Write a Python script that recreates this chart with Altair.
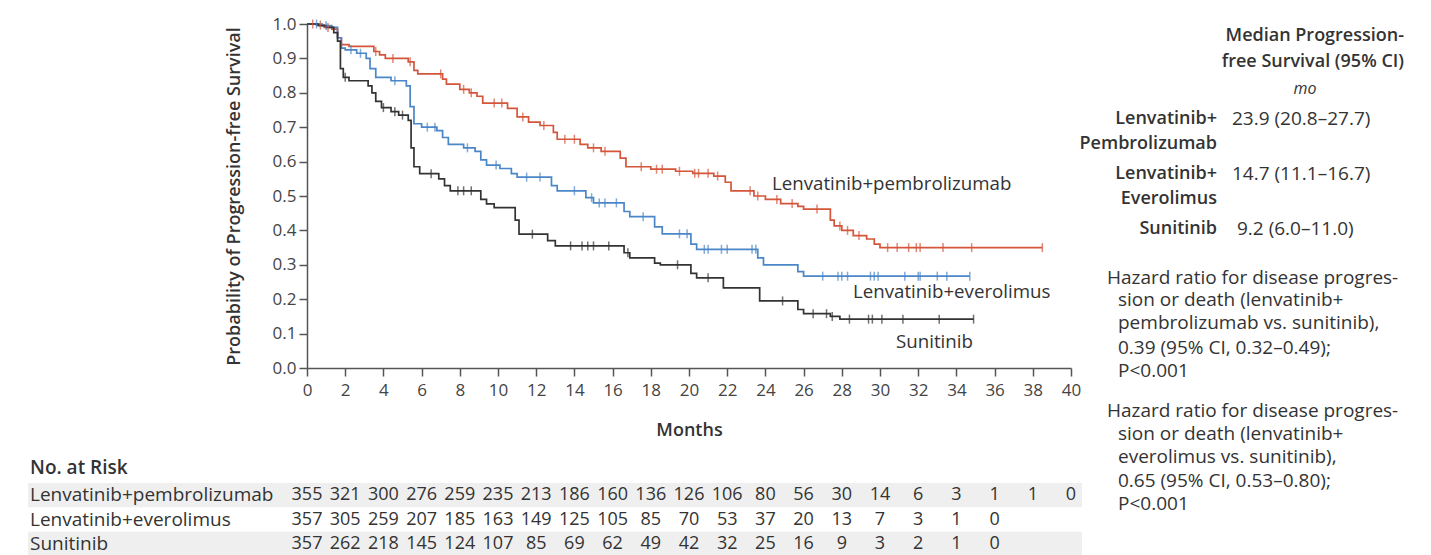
import altair as alt
import pandas as pd

FONT = "Open Sans"
TEXT = "#333333"
BOLD = 600

# ---------------- data ----------------
series_names = ["Lenvatinib+pembrolizumab", "Lenvatinib+everolimus", "Sunitinib"]
series_colors = ["#d4553a", "#4a86c8", "#333333"]

red_t = [0, 0.5, 0.9, 1.3, 1.6, 1.8, 2.2, 3.5, 3.8, 4.1, 5.3, 5.6, 5.8, 7.1, 7.3, 8.0, 8.5, 8.9, 9.2, 10.5,
         11.0, 11.6, 12.2, 12.9, 13.1, 14.3, 14.7, 15.4, 16.4, 16.7, 18.0, 19.3, 20.2, 21.3, 21.9, 22.2, 23.4,
         24.0, 24.8, 25.7, 26.0, 27.4, 27.6, 28.0, 28.6, 29.3, 29.7, 30.0, 38.5]
red_s = [1.0, 0.997, 0.99, 0.985, 0.96, 0.94, 0.935, 0.92, 0.91, 0.9, 0.89, 0.865, 0.855, 0.84, 0.825, 0.81,
         0.80, 0.79, 0.77, 0.755, 0.73, 0.715, 0.705, 0.685, 0.665, 0.65, 0.64, 0.63, 0.61, 0.585, 0.578, 0.572,
         0.566, 0.558, 0.54, 0.515, 0.50, 0.49, 0.478, 0.47, 0.462, 0.43, 0.413, 0.40, 0.385, 0.375, 0.36,
         0.35, 0.35]
red_censor = [0.3, 0.7, 1.1, 3.6, 4.5, 5.4, 7.0, 8.2, 8.6, 9.8, 10.2, 11.3, 12.4, 13.5, 14.0, 15.0, 15.6,
              17.5, 18.3, 18.6, 19.5, 20.3, 20.5, 21.0, 21.5, 23.2, 23.6, 24.6, 25.4, 26.7, 27.9, 28.3, 28.9,
              30.4, 30.9, 31.5, 31.9, 32.1, 33.3, 34.8, 38.5]

blue_t = [0, 0.8, 1.3, 1.6, 1.8, 2.0, 2.6, 3.1, 3.3, 3.6, 4.4, 5.2, 5.4, 5.6, 6.0, 6.8, 7.1, 7.4, 8.2, 8.8,
          9.1, 9.4, 10.1, 10.7, 11.0, 12.8, 13.1, 14.6, 15.0, 16.6, 16.9, 18.2, 18.6, 20.1, 20.4, 23.6, 23.9,
          25.7, 26.0, 34.7]
blue_s = [1.0, 0.995, 0.99, 0.96, 0.93, 0.925, 0.915, 0.90, 0.87, 0.845, 0.835, 0.82, 0.76, 0.71, 0.70, 0.69,
          0.67, 0.65, 0.64, 0.63, 0.605, 0.59, 0.58, 0.565, 0.555, 0.53, 0.515, 0.495, 0.48, 0.455, 0.44, 0.41,
          0.39, 0.36, 0.345, 0.32, 0.30, 0.28, 0.267, 0.267]
blue_censor = [0.5, 1.0, 2.3, 2.8, 4.6, 6.3, 6.7, 8.4, 9.9, 11.5, 12.2, 14.0, 14.9, 15.3, 15.6, 16.2, 17.6,
               19.5, 19.9, 20.8, 21.0, 21.7, 22.0, 23.3, 23.5, 27.0, 27.8, 28.0, 28.3, 29.5, 29.7, 29.9, 31.3,
               32.0, 32.1, 33.0, 33.5, 34.7]

blk_t = [0, 0.6, 1.0, 1.4, 1.6, 1.75, 1.9, 2.2, 3.2, 3.4, 3.6, 3.9, 4.4, 4.8, 5.3, 5.45, 5.6, 5.9, 6.9, 7.2,
         7.5, 9.1, 9.4, 9.8, 10.9, 11.1, 12.6, 13.0, 16.6, 16.9, 18.2, 18.5, 20.1, 20.4, 21.8, 23.7, 25.7,
         26.0, 27.4, 27.9, 34.9]
blk_s = [1.0, 0.995, 0.99, 0.975, 0.95, 0.87, 0.845, 0.835, 0.82, 0.80, 0.775, 0.757, 0.745, 0.735, 0.72, 0.64,
         0.585, 0.565, 0.55, 0.53, 0.515, 0.49, 0.477, 0.466, 0.43, 0.389, 0.37, 0.355, 0.335, 0.32, 0.305,
         0.30, 0.275, 0.262, 0.233, 0.195, 0.17, 0.158, 0.15, 0.142, 0.142]
blk_censor = [2.0, 4.0, 4.6, 5.0, 6.5, 7.9, 8.2, 8.6, 11.8, 13.8, 14.4, 14.7, 15.0, 15.8, 16.8, 19.4, 21.0,
              24.9, 26.5, 27.2, 27.5, 28.4, 29.4, 29.6, 30.1, 31.2, 33.1, 34.9]

x_tick_values = list(range(0, 41, 2))
y_tick_values = [0.0, 0.1, 0.2, 0.3, 0.4, 0.5, 0.6, 0.7, 0.8, 0.9, 1.0]

risk_months = list(range(0, 41, 2))
risk_pembro = [355, 321, 300, 276, 259, 235, 213, 186, 160, 136, 126, 106, 80, 56, 30, 14, 6, 3, 1, 1, 0]
risk_everol = [357, 305, 259, 207, 185, 163, 149, 125, 105, 85, 70, 53, 37, 20, 13, 7, 3, 1, 0]
risk_sunit = [357, 262, 218, 145, 124, 107, 85, 69, 62, 49, 42, 32, 25, 16, 9, 3, 2, 1, 0]

# ---------------- build tables ----------------
def step_value(ts, ss, t):
    v = ss[0]
    for a, b in zip(ts, ss):
        if a <= t:
            v = b
    return v

curve_rows, censor_rows = [], []
for name, ts, ss, cs in [(series_names[0], red_t, red_s, red_censor),
                         (series_names[1], blue_t, blue_s, blue_censor),
                         (series_names[2], blk_t, blk_s, blk_censor)]:
    for t, s in zip(ts, ss):
        curve_rows.append({"series": name, "month": t, "surv": s})
    for c in cs:
        censor_rows.append({"series": name, "month": c, "surv": step_value(ts, ss, c)})
curves = pd.DataFrame(curve_rows)
censor = pd.DataFrame(censor_rows)

risk_rows = []
for name, counts in zip(series_names, [risk_pembro, risk_everol, risk_sunit]):
    for m, n in zip(risk_months, counts):
        risk_rows.append({"group": name, "month": m, "n": n})
risk = pd.DataFrame(risk_rows)

# ---------------- layout constants (pixels) ----------------
W, H = 764, 344
OX, OY = 307, 23  # page position of the plot origin; used to place annotation text

x_scale = alt.Scale(domain=[0, 40], nice=False)
y_scale = alt.Scale(domain=[0, 1], nice=False)
color_scale = alt.Scale(domain=series_names, range=series_colors)

x_axis = alt.Axis(values=x_tick_values, title="Months", grid=False, tickSize=8, labelPadding=6,
                  titlePadding=23, labelFontSize=17, titleFontSize=18, labelOverlap=False, labelFlush=False)
y_axis = alt.Axis(values=y_tick_values, format=".1f", title="Probability of Progression-free Survival",
                  grid=False, tickSize=8, labelPadding=3, titlePadding=29, labelFontSize=17,
                  titleFontSize=18, labelOverlap=False, labelFlush=False)

lines = alt.Chart(curves).mark_line(interpolate="step-after", strokeWidth=1.7).encode(
    x=alt.X("month:Q", scale=x_scale, axis=x_axis),
    y=alt.Y("surv:Q", scale=y_scale, axis=y_axis),
    color=alt.Color("series:N", scale=color_scale, legend=None),
)

ticks = alt.Chart(censor).mark_tick(orient="vertical", size=9, thickness=1.5).encode(
    x=alt.X("month:Q", scale=x_scale, axis=x_axis),
    y=alt.Y("surv:Q", scale=y_scale, axis=y_axis),
    color=alt.Color("series:N", scale=color_scale, legend=None),
)


def note(s, px, py, align="left", weight="normal", style="normal", size=19):
    return alt.Chart(pd.DataFrame({"t": [s]})).mark_text(
        align=align, baseline="middle", font=FONT, fontSize=size, color=TEXT,
        fontWeight=weight, fontStyle=style
    ).encode(x=alt.value(px - OX), y=alt.value(py - OY), text="t:N")


notes = [
    note("Lenvatinib+pembrolizumab", 772, 183, size=18.7),
    note("Lenvatinib+everolimus", 853, 291, size=18.7),
    note("Sunitinib", 896, 341, size=18.7),
    note("Median Progression-", 1404, 35, "right", BOLD, size=18),
    note("free Survival (95% CI)", 1404, 61, "right", BOLD, size=18),
    note("mo", 1305, 88, "center", "normal", "italic", 16),
    note("Lenvatinib+", 1217, 118, "right", BOLD, size=18),
    note("23.9 (20.8–27.7)", 1232, 118),
    note("Pembrolizumab", 1217, 143, "right", BOLD, size=18),
    note("Lenvatinib+", 1217, 173, "right", BOLD, size=18),
    note("14.7 (11.1–16.7)", 1232, 173),
    note("Everolimus", 1217, 198, "right", BOLD, size=18),
    note("Sunitinib", 1217, 228, "right", BOLD, size=18),
    note("9.2 (6.0–11.0)", 1237, 228),
    note("Hazard ratio for disease progres-", 1107, 277),
    note("sion or death (lenvatinib+", 1118, 299),
    note("pembrolizumab vs. sunitinib),", 1118, 322),
    note("0.39 (95% CI, 0.32–0.49);", 1118, 347),
    note("P<0.001", 1118, 370),
    note("Hazard ratio for disease progres-", 1107, 410),
    note("sion or death (lenvatinib+", 1118, 433),
    note("everolimus vs. sunitinib),", 1118, 456),
    note("0.65 (95% CI, 0.53–0.80);", 1118, 480),
    note("P<0.001", 1118, 503),
    note("No. at Risk", 30, 467, "left", BOLD, size=19),
]

plot_layer = alt.layer(lines, ticks, *notes)

# ---------------- number at risk table (own y scale placed below the plot) ----------------
y_tab = alt.Scale(domain=series_names, range=[482 - OY, 555 - OY], paddingInner=0, paddingOuter=0)

bands = alt.Chart(pd.DataFrame({"group": [series_names[0], series_names[2]]})).mark_rect(color="#efefef").encode(
    y=alt.Y("group:N", scale=y_tab, axis=None),
    x=alt.value(28 - OX),
    x2=alt.value(1082 - OX),
)
row_labels = alt.Chart(pd.DataFrame({"group": series_names})).mark_text(
    align="left", baseline="middle", font=FONT, fontSize=19, color=TEXT
).encode(
    y=alt.Y("group:N", scale=y_tab, axis=None),
    x=alt.value(30 - OX),
    text="group:N",
)
nums = alt.Chart(risk).mark_text(font=FONT, fontSize=18, color=TEXT, baseline="middle").encode(
    x=alt.X("month:Q", scale=x_scale, axis=x_axis),
    y=alt.Y("group:N", scale=y_tab, axis=None),
    text="n:Q",
)
table_layer = alt.layer(bands, row_labels, nums)

chart = alt.layer(plot_layer, table_layer).resolve_scale(y="independent").properties(
    width=W, height=H,
    padding={"left": 20, "top": 7, "right": 5, "bottom": 0},
).configure_view(stroke=None).configure_axis(
    labelFont=FONT, titleFont=FONT, labelColor="#444444", titleColor=TEXT, titleFontWeight=BOLD,
    domainColor="#555555", tickColor="#555555", domainWidth=1.5, tickWidth=1.5,
)

chart.save("out.html", embed_options={"renderer": "svg", "actions": False})
